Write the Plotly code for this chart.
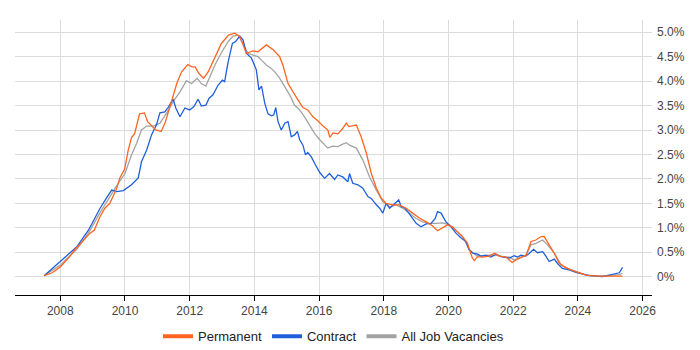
import plotly.graph_objects as go

# ---- Data (decimal year, % share) ----
perm_x = [2007.50, 2007.75, 2008.00, 2008.25, 2008.45, 2008.70, 2008.92, 2009.05, 2009.23, 2009.38,
          2009.53, 2009.74, 2009.84, 2009.99, 2010.10, 2010.20, 2010.30, 2010.45, 2010.60, 2010.70,
          2010.85, 2010.95, 2011.12, 2011.25, 2011.45, 2011.60, 2011.75, 2011.94, 2012.07, 2012.17,
          2012.28, 2012.43, 2012.58, 2012.74, 2012.84, 2012.98, 2013.20, 2013.39, 2013.55, 2013.75,
          2013.96, 2014.11, 2014.37, 2014.58, 2014.78, 2014.88, 2015.04, 2015.19, 2015.35, 2015.50,
          2015.65, 2015.81, 2015.96, 2016.12, 2016.27, 2016.33, 2016.43, 2016.58, 2016.73, 2016.84,
          2016.92, 2017.15, 2017.30, 2017.46, 2017.61, 2017.77, 2017.92, 2018.07, 2018.27, 2018.48,
          2018.69, 2018.89, 2019.10, 2019.31, 2019.50, 2019.66, 2019.81, 2019.97, 2020.12, 2020.28,
          2020.43, 2020.58, 2020.74, 2020.80, 2020.89, 2021.05, 2021.26, 2021.42, 2021.57, 2021.78,
          2021.97, 2022.13, 2022.28, 2022.40, 2022.55, 2022.70, 2022.86, 2022.96, 2023.11, 2023.27,
          2023.42, 2023.58, 2023.78, 2023.98, 2024.25, 2024.56, 2024.97, 2025.38]
perm_y = [0.02, 0.08, 0.20, 0.38, 0.55, 0.73, 0.89, 0.95, 1.23, 1.40,
          1.50, 1.80, 2.02, 2.20, 2.59, 2.84, 2.93, 3.33, 3.35, 3.17,
          3.07, 3.00, 2.97, 3.17, 3.61, 3.95, 4.19, 4.34, 4.29, 4.29,
          4.16, 4.06, 4.20, 4.43, 4.57, 4.77, 4.94, 4.98, 4.91, 4.57,
          4.62, 4.60, 4.74, 4.64, 4.50, 4.33, 3.95, 3.78, 3.61, 3.46,
          3.41, 3.27, 3.19, 3.08, 3.00, 2.85, 2.94, 2.92, 3.03, 3.14,
          3.07, 3.10, 2.86, 2.53, 2.12, 1.81, 1.61, 1.50, 1.47, 1.47,
          1.40, 1.30, 1.20, 1.12, 1.04, 0.94, 1.00, 1.06, 1.02, 0.92,
          0.82, 0.69, 0.38, 0.33, 0.41, 0.40, 0.42, 0.48, 0.42, 0.40,
          0.29, 0.36, 0.40, 0.44, 0.72, 0.75, 0.82, 0.82, 0.65, 0.48,
          0.28, 0.20, 0.14, 0.10, 0.03, 0.01, 0.01, 0.01]

contract_x = [2007.50, 2008.00, 2008.51, 2008.87, 2009.23, 2009.43, 2009.59, 2009.74, 2009.95, 2010.20,
              2010.41, 2010.51, 2010.67, 2010.82, 2010.97, 2011.08, 2011.23, 2011.33, 2011.49, 2011.57,
              2011.70, 2011.85, 2012.00, 2012.13, 2012.26, 2012.36, 2012.50, 2012.60, 2012.72, 2012.88,
              2013.01, 2013.08, 2013.19, 2013.32, 2013.42, 2013.55, 2013.65, 2013.75, 2013.91, 2014.06,
              2014.14, 2014.22, 2014.32, 2014.42, 2014.53, 2014.60, 2014.66, 2014.73, 2014.83, 2014.94,
              2015.04, 2015.14, 2015.24, 2015.33, 2015.40, 2015.50, 2015.58, 2015.65, 2015.76, 2015.86,
              2016.02, 2016.17, 2016.32, 2016.48, 2016.58, 2016.73, 2016.89, 2016.94, 2017.04, 2017.20,
              2017.35, 2017.51, 2017.61, 2017.77, 2017.87, 2017.97, 2018.07, 2018.18, 2018.33, 2018.46,
              2018.54, 2018.64, 2018.74, 2018.85, 2019.00, 2019.15, 2019.31, 2019.46, 2019.59, 2019.66,
              2019.77, 2019.92, 2020.08, 2020.23, 2020.39, 2020.54, 2020.64, 2020.75, 2020.90, 2021.00,
              2021.16, 2021.31, 2021.47, 2021.62, 2021.78, 2021.88, 2022.03, 2022.13, 2022.24, 2022.39,
              2022.50, 2022.63, 2022.75, 2022.91, 2023.01, 2023.11, 2023.27, 2023.37, 2023.52, 2023.73,
              2023.94, 2024.14, 2024.35, 2024.76, 2024.97, 2025.17, 2025.28, 2025.38]
contract_y = [0.02, 0.31, 0.61, 0.95, 1.40, 1.61, 1.77, 1.74, 1.76, 1.88,
              2.02, 2.35, 2.59, 2.90, 3.10, 3.35, 3.37, 3.46, 3.63, 3.45,
              3.27, 3.45, 3.41, 3.48, 3.63, 3.49, 3.51, 3.65, 3.72, 3.92,
              4.02, 3.99, 4.40, 4.77, 4.81, 4.92, 4.84, 4.57, 4.47, 4.23,
              3.82, 3.90, 3.55, 3.33, 3.29, 3.31, 3.46, 3.17, 3.00, 3.14,
              3.17, 2.86, 2.90, 2.97, 2.80, 2.69, 2.49, 2.54, 2.45, 2.32,
              2.13, 2.01, 2.11, 1.99, 2.08, 2.04, 1.94, 2.11, 1.91, 1.88,
              1.81, 1.64, 1.60, 1.47, 1.40, 1.30, 1.50, 1.40, 1.49, 1.57,
              1.43, 1.41, 1.33, 1.23, 1.09, 1.02, 1.08, 1.09, 1.19, 1.33,
              1.30, 1.12, 1.02, 0.89, 0.79, 0.72, 0.55, 0.48, 0.46, 0.42,
              0.44, 0.40, 0.46, 0.41, 0.40, 0.38, 0.43, 0.40, 0.44, 0.42,
              0.48, 0.56, 0.49, 0.51, 0.42, 0.31, 0.36, 0.27, 0.17, 0.14,
              0.09, 0.06, 0.02, 0.00, 0.03, 0.06, 0.08, 0.19]

all_x = [2007.50, 2008.00, 2008.51, 2008.87, 2009.23, 2009.53, 2009.79, 2010.00, 2010.20, 2010.36,
         2010.51, 2010.67, 2010.87, 2011.08, 2011.28, 2011.49, 2011.70, 2011.90, 2012.06, 2012.23,
         2012.36, 2012.50, 2012.62, 2012.78, 2012.98, 2013.19, 2013.34, 2013.50, 2013.65, 2013.80,
         2013.96, 2014.11, 2014.22, 2014.37, 2014.52, 2014.63, 2014.78, 2014.94, 2015.09, 2015.24,
         2015.40, 2015.55, 2015.71, 2015.86, 2016.02, 2016.17, 2016.27, 2016.42, 2016.58, 2016.73,
         2016.84, 2016.94, 2017.15, 2017.35, 2017.56, 2017.77, 2017.97, 2018.18, 2018.38, 2018.59,
         2018.79, 2019.00, 2019.20, 2019.41, 2019.62, 2019.82, 2020.03, 2020.23, 2020.44, 2020.64,
         2020.85, 2021.05, 2021.26, 2021.47, 2021.67, 2021.88, 2022.03, 2022.24, 2022.39, 2022.55,
         2022.70, 2022.91, 2023.06, 2023.27, 2023.48, 2023.68, 2023.94, 2024.25, 2024.66, 2025.07,
         2025.28, 2025.38]
all_y = [0.02, 0.24, 0.56, 0.89, 1.31, 1.64, 1.91, 2.11, 2.49, 2.73,
         3.00, 3.08, 3.08, 3.14, 3.34, 3.58, 3.78, 4.01, 3.95, 4.06,
         3.95, 3.90, 4.09, 4.33, 4.58, 4.81, 4.92, 4.94, 4.76, 4.57,
         4.53, 4.50, 4.43, 4.33, 4.26, 4.19, 4.06, 3.89, 3.72, 3.51,
         3.41, 3.27, 3.10, 2.93, 2.80, 2.69, 2.63, 2.67, 2.66, 2.71,
         2.74, 2.69, 2.63, 2.39, 2.04, 1.77, 1.53, 1.43, 1.47, 1.40,
         1.30, 1.19, 1.12, 1.09, 1.09, 1.10, 1.06, 0.95, 0.82, 0.55,
         0.44, 0.42, 0.44, 0.44, 0.41, 0.40, 0.34, 0.40, 0.44, 0.65,
         0.68, 0.75, 0.65, 0.48, 0.24, 0.17, 0.10, 0.03, 0.01, 0.02,
         0.04, 0.07]

x_ticks = [2008, 2010, 2012, 2014, 2016, 2018, 2020, 2022, 2024, 2026]
y_ticks = [0, 0.5, 1.0, 1.5, 2.0, 2.5, 3.0, 3.5, 4.0, 4.5, 5.0]
y_ticklabels = ["0%", "0.5%", "1.0%", "1.5%", "2.0%", "2.5%", "3.0%", "3.5%", "4.0%", "4.5%", "5.0%"]

series = [
    ("All Job Vacancies", all_x, all_y, "#a3a3a3"),
    ("Contract", contract_x, contract_y, "#1f5fdc"),
    ("Permanent", perm_x, perm_y, "#ff6520"),
]
legend_order = ["Permanent", "Contract", "All Job Vacancies"]

fig = go.Figure()
for name, xs, ys, col in series:
    fig.add_trace(go.Scatter(x=xs, y=ys, mode="lines", name=name,
                             line=dict(color=col, width=1.3), showlegend=False))
colors = {n: c for n, _, _, c in series}
for name in legend_order:
    fig.add_trace(go.Scatter(x=[None], y=[None], mode="lines", name=name,
                             line=dict(color=colors[name], width=4), showlegend=True))

font = "Liberation Sans, Arial, sans-serif"
# page body has an 8px default margin, so the figure is sized/offset to compensate
fig.update_layout(
    width=692, height=342,
    margin=dict(l=7, r=48, t=12, b=55, autoexpand=False),
    paper_bgcolor="white", plot_bgcolor="white",
    font=dict(family=font, size=12, color="#444"),
    legend=dict(orientation="h", x=0.5, xanchor="center", y=-0.15, yanchor="middle",
                font=dict(size=13, color="#222"), itemwidth=30, traceorder="normal"),
    xaxis=dict(range=[2006.6, 2026.29], tickvals=x_ticks, showgrid=True, gridcolor="#dcdcdc",
               showline=True, linecolor="#000", linewidth=1, ticks="outside", ticklen=5,
               tickcolor="#000", zeroline=False, automargin=False,
               tickfont=dict(size=12, color="#444")),
    yaxis=dict(range=[-0.375, 5.25], side="right", tickvals=y_ticks, ticktext=y_ticklabels,
               showgrid=True, gridcolor="#dcdcdc", zeroline=False, showline=False,
               ticks="", automargin=False, ticklabelstandoff=4,
               tickfont=dict(size=12, color="#444")),
)

fig.write_html("out.html")
